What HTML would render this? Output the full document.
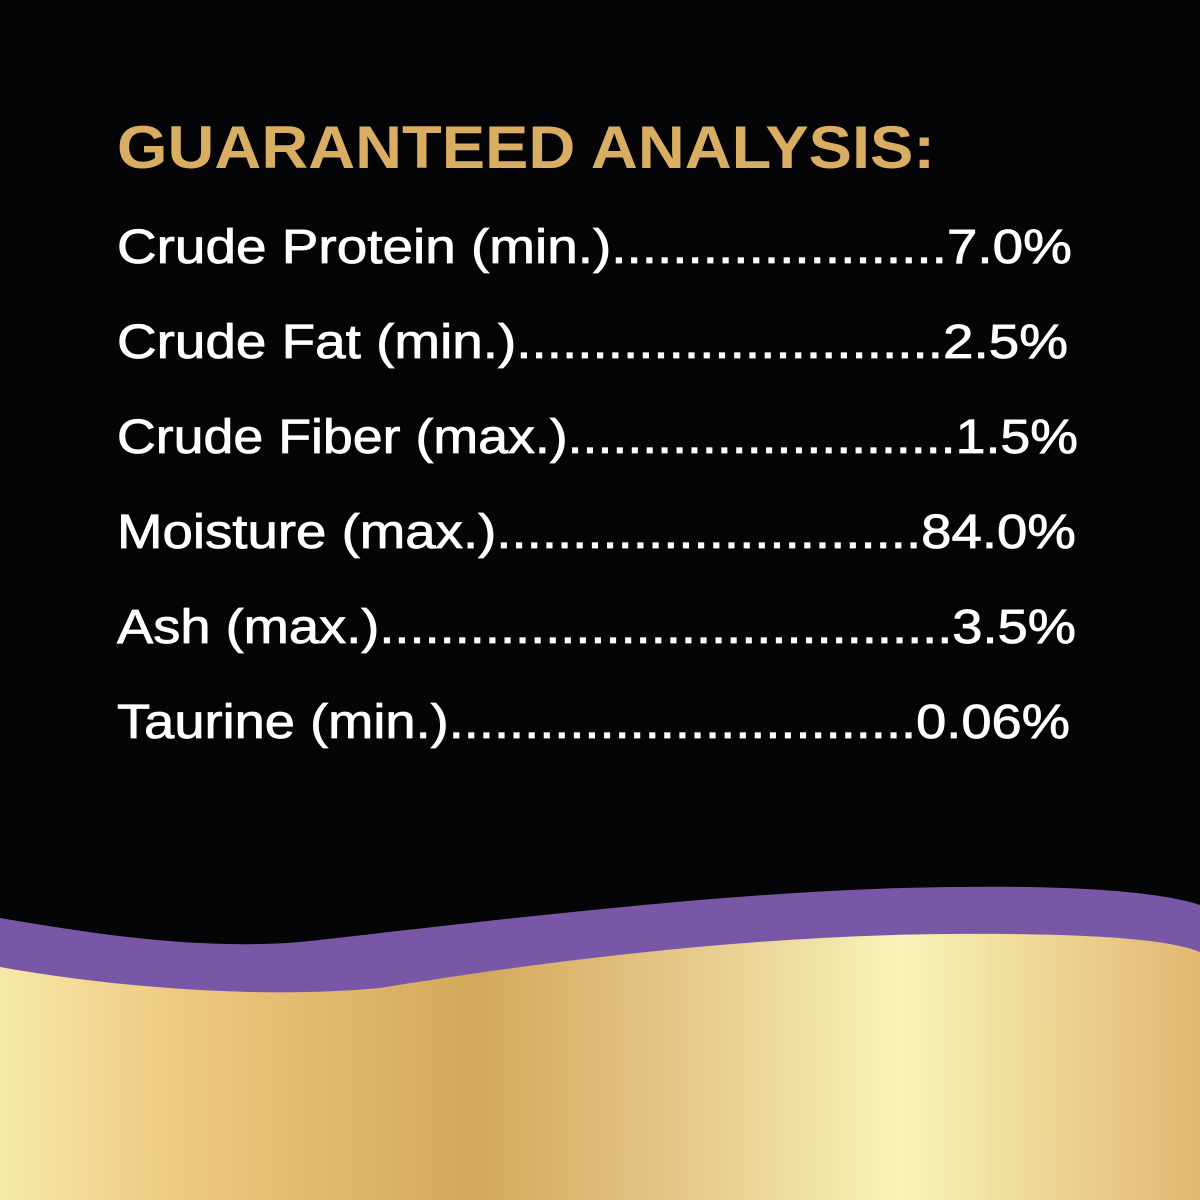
<!DOCTYPE html>
<html><head><meta charset="utf-8"><style>
html,body{margin:0;padding:0;background:#050508;}
svg{display:block}
</style></head><body>
<svg width="1200" height="1200" viewBox="0 0 1200 1200" xmlns="http://www.w3.org/2000/svg">
<defs>
<linearGradient id="g" x1="0" y1="0" x2="1200" y2="0" gradientUnits="userSpaceOnUse">
<stop offset="0" stop-color="#f7e8a8"/>
<stop offset="0.15" stop-color="#eec980"/>
<stop offset="0.395" stop-color="#d4a85a"/>
<stop offset="0.57" stop-color="#e6c88a"/>
<stop offset="0.75" stop-color="#f9f2b8"/>
<stop offset="1" stop-color="#e2b870"/>
</linearGradient>
</defs>
<rect width="1200" height="1200" fill="#050508"/>
<path d="M0,918 C100,935 200,950 300,942 C500,920 750,888 960,887 C1100,885 1170,895 1200,905 L1200,1200 L0,1200 Z" fill="#7858a6"/>
<path d="M0,967 C100,985 250,1000 380,988 C550,960 760,935 950,934 C1100,933 1170,940 1200,952 L1200,1200 L0,1200 Z" fill="url(#g)"/>
<g font-family="Liberation Sans, sans-serif">
<text x="117" y="168" font-size="60" font-weight="bold" fill="#d9ae62" textLength="818" lengthAdjust="spacingAndGlyphs">GUARANTEED ANALYSIS:</text>
<g fill="#ffffff" font-size="48" stroke="#ffffff" stroke-width="0.8">
<text x="117" y="263" textLength="955" lengthAdjust="spacingAndGlyphs">Crude Protein (min.)......................7.0%</text>
<text x="117" y="358" textLength="951" lengthAdjust="spacingAndGlyphs">Crude Fat (min.)............................2.5%</text>
<text x="117" y="453" textLength="961" lengthAdjust="spacingAndGlyphs">Crude Fiber (max.)..........................1.5%</text>
<text x="117" y="548" textLength="959" lengthAdjust="spacingAndGlyphs">Moisture (max.)............................84.0%</text>
<text x="117" y="643" textLength="959" lengthAdjust="spacingAndGlyphs">Ash (max.)......................................3.5%</text>
<text x="117" y="738" textLength="953" lengthAdjust="spacingAndGlyphs">Taurine (min.)...............................0.06%</text>
</g>
</g>
</svg>
</body></html>
